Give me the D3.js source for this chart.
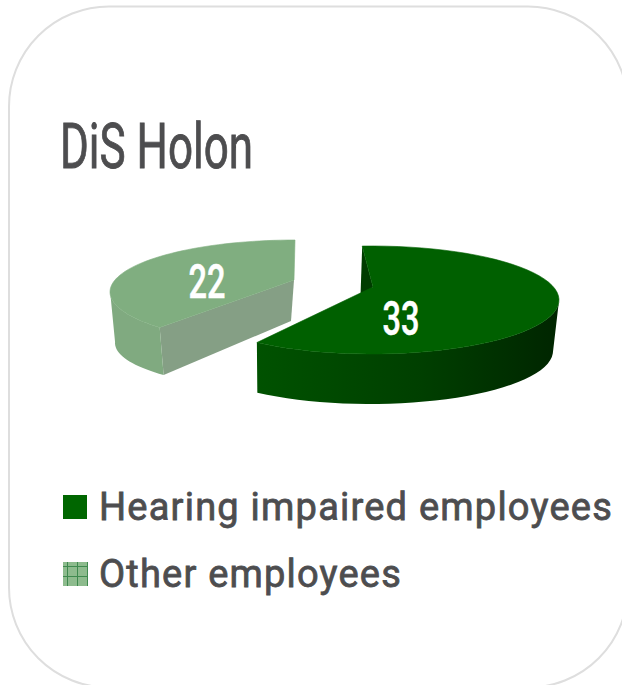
<!DOCTYPE html>
<html>
<head>
    <meta charset="UTF-8">
    <title>DiS Holon</title>
    <script src="https://d3js.org/d3.v7.min.js"></script>
    <style>
      html, body { margin: 0; padding: 0; background: #fff; overflow: hidden; }
      text { font-family: Roboto, "Noto Sans", sans-serif; }
    </style>
</head>
<body>
    <svg id="chart"></svg>

    <script>

    const categories = ["Hearing impaired employees", "Other employees"];
    const values = [33, 22];
    const chartTitle = "DiS Holon";

    const width = 622;
    const height = 685;
    const rad = Math.PI / 180;
    const grey = "#4d4d4f";

    // each slice has its own pulled out ellipse, top face and bottom face differ a bit (perspective)
    const views = [
      {top: {cx: 372, cy: 300, rx: 187, ry: 54}, bottom: {cx: 370, cy: 351, rx: 183, ry: 53},
       apex: [373, 287], from: -3, to: 218, wallFrom: 90, label: [401, 335], labelWidth: 37},
      {top: {cx: 295, cy: 292, rx: 185, ry: 52}, bottom: {cx: 296, cy: 343, rx: 181, ry: 47},
       apex: [294, 280], apexBottom: [291, 321], from: 227, to: 360, wallFrom: 227, wallTo: 272, label: [207, 298], labelWidth: 37}
    ];

    const svg = d3.select("#chart")
      .attr("width", width)
      .attr("height", height)
      .style("display", "block");

    const defs = svg.append("defs");

    const wallGrad = defs.append("linearGradient")
      .attr("id", "wall")
      .attr("gradientUnits", "userSpaceOnUse")
      .attr("x1", 257).attr("x2", 559).attr("y1", 0).attr("y2", 0);
    wallGrad.append("stop").attr("offset", "0").attr("stop-color", "#005200");
    wallGrad.append("stop").attr("offset", "0.55").attr("stop-color", "#003f00");
    wallGrad.append("stop").attr("offset", "1").attr("stop-color", "#002500");

    const hatch = defs.append("pattern")
      .attr("id", "hatch")
      .attr("patternUnits", "userSpaceOnUse")
      .attr("x", 63).attr("y", 562)
      .attr("width", 10).attr("height", 10);
    hatch.append("rect").attr("width", 10).attr("height", 10).attr("fill", "#8dbb8d");
    hatch.append("path").attr("d", "M0 4.5H10M4.5 0V10").attr("stroke", "#3f8a4f").attr("stroke-width", 1).attr("fill", "none");

    // card, runs off the right and bottom of the picture
    svg.append("rect")
      .attr("x", 9).attr("y", 6.5)
      .attr("width", 619).attr("height", 681)
      .attr("rx", 100).attr("ry", 100)
      .attr("fill", "#fff")
      .attr("stroke", "#dedede")
      .attr("stroke-width", 2);

    svg.append("text")
      .attr("x", 60).attr("y", 168)
      .attr("font-size", 63)
      .attr("font-weight", 400)
      .attr("stroke", grey)
      .attr("stroke-width", 0.9)
      .attr("fill", grey)
      .attr("textLength", 193)
      .attr("lengthAdjust", "spacingAndGlyphs")
      .text(chartTitle);

    const pie = d3.pie().sort(null);
    const arcs = pie(values);

    const rimPoint = (e, a) => [e.cx + e.rx * Math.sin(a * rad), e.cy - e.ry * Math.cos(a * rad)];
    const line = d3.line();

    const drawSlice = (i, colors) => {
      const v = views[i];
      // pie angles mapped on to the angles seen in the picture
      const angle = d3.scaleLinear()
        .domain([arcs[i].startAngle, arcs[i].endAngle])
        .range([v.from, v.to]);
      const steps = d3.range(0, 61).map(k => angle(arcs[i].startAngle + (arcs[i].endAngle - arcs[i].startAngle) * k / 60));
      const g = svg.append("g");

      if (i === 0) {
        // inner cut face seen through the notch
        g.append("path")
          .attr("d", line([rimPoint(v.top, v.from), rimPoint(v.bottom, v.from), v.apex]) + "Z")
          .attr("fill", colors.inner);
      } else {
        g.append("path")
          .attr("d", line([v.apex, rimPoint(v.top, v.from), rimPoint(v.bottom, v.from), v.apexBottom]) + "Z")
          .attr("fill", colors.inner);
      }

      const wallEnd = v.wallTo !== undefined ? v.wallTo : v.to;
      const wallSteps = steps.filter(a => i === 0 ? a >= v.wallFrom : a <= wallEnd);
      const wall = wallSteps.map(a => rimPoint(v.top, a))
        .concat(wallSteps.slice().reverse().map(a => rimPoint(v.bottom, a)));
      g.append("path")
        .attr("d", line(wall) + "Z")
        .attr("fill", colors.wall);

      g.append("path")
        .attr("d", line([v.apex].concat(steps.map(a => rimPoint(v.top, a)))) + "Z")
        .attr("fill", colors.top)
        .attr("stroke", colors.top)
        .attr("stroke-width", 0.6);

      g.append("text")
        .attr("x", v.label[0]).attr("y", v.label[1])
        .attr("text-anchor", "middle")
        .attr("font-size", 49)
        .attr("font-weight", 500)
        .attr("stroke", "#fff")
        .attr("stroke-width", 0.5)
        .attr("fill", "#fff")
        .attr("textLength", v.labelWidth)
        .attr("lengthAdjust", "spacingAndGlyphs")
        .text(values[i]);
    };

    drawSlice(1, {top: "#80ae80", wall: "#80aa80", inner: "#859f85"});
    drawSlice(0, {top: "#006000", wall: "url(#wall)", inner: "#003c00"});

    // legend
    const legendY = d3.scalePoint().domain(categories).range([520, 587]);
    const legendW = [514, 303];
    const legendFill = ["#006600", "url(#hatch)"];

    const legend = svg.selectAll(".legend")
      .data(categories)
      .enter()
      .append("g")
      .attr("class", "legend");

    legend.append("rect")
      .attr("x", 63)
      .attr("y", d => legendY(d) - 25)
      .attr("width", (d, i) => i ? 25 : 24)
      .attr("height", 24)
      .attr("fill", (d, i) => legendFill[i]);

    legend.append("text")
      .attr("x", 99)
      .attr("y", d => legendY(d))
      .attr("font-size", 38)
      .attr("font-weight", 400)
      .attr("stroke", grey)
      .attr("stroke-width", 0.8)
      .attr("fill", grey)
      .attr("letter-spacing", 1.2)
      .attr("textLength", (d, i) => legendW[i])
      .attr("lengthAdjust", "spacingAndGlyphs")
      .text(d => d);

    </script>
</body>
</html>
